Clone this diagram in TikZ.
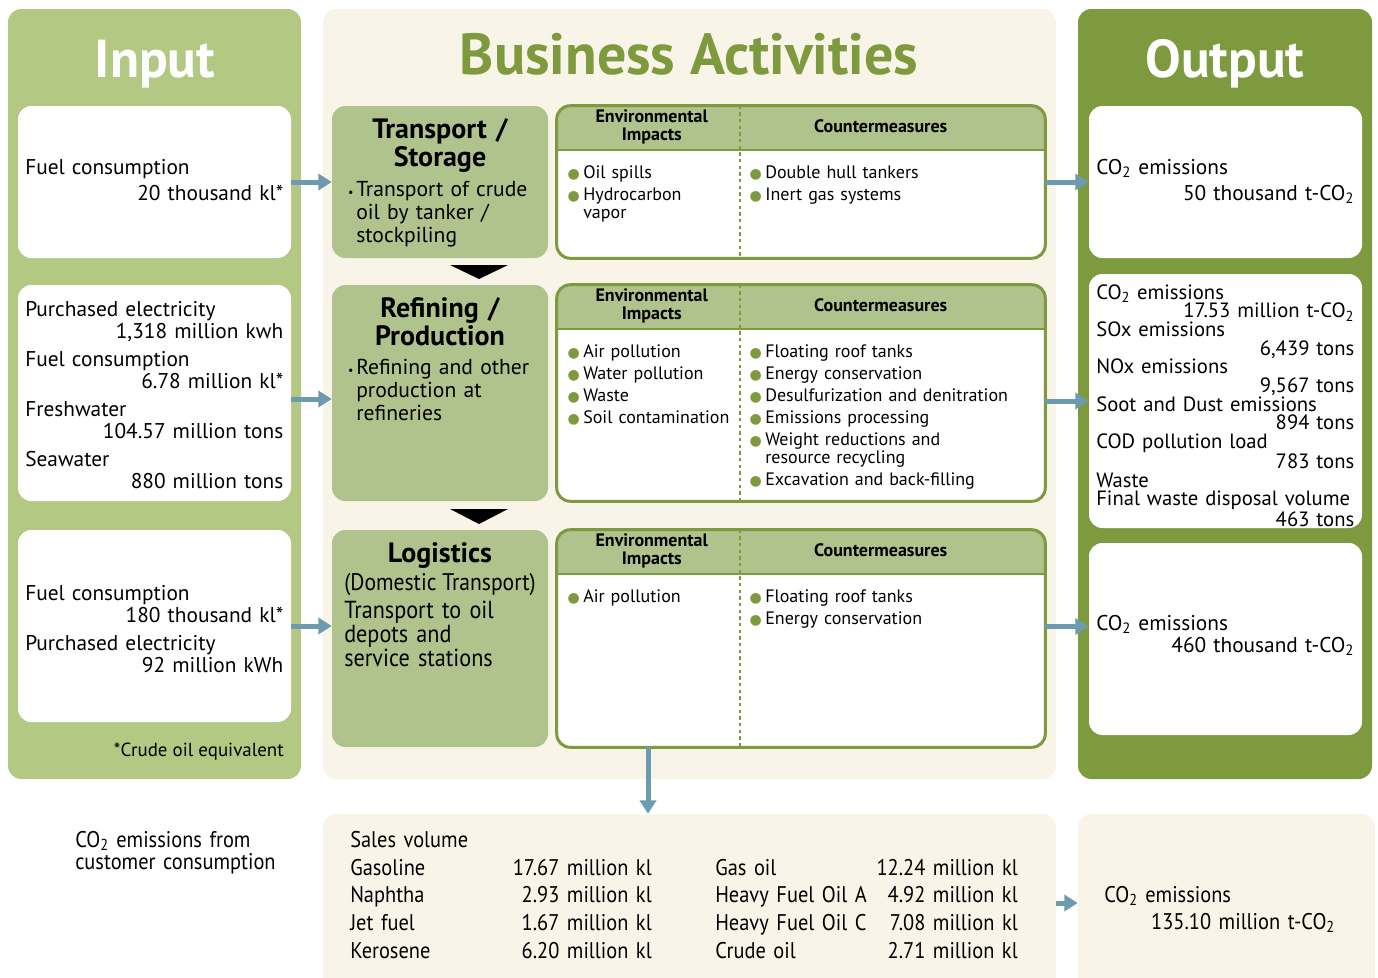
\documentclass[tikz,border=0pt]{standalone}
\usepackage{fontspec}
\setmainfont{PT Sans}
\newfontfamily\narrowfont[FakeStretch=0.9]{PT Sans}
\newfontfamily\symfont{DejaVu Sans}
\usetikzlibrary{positioning,fit,arrows.meta,calc}

\definecolor{ingreen}{HTML}{B3C983}
\definecolor{outgreen}{HTML}{7D9A3E}
\definecolor{stagegreen}{HTML}{B1C38C}
\definecolor{cream}{HTML}{F8F4E8}
\definecolor{flowblue}{HTML}{6C9AAF}

\newcommand{\cotwo}{CO\textsubscript{2}}
\newcommand{\rgt}{\hspace*{\fill}}
\newcommand{\gdot}{\leavevmode\llap{\textcolor{outgreen}{\symfont\fontsize{10.5}{10}\selectfont ●}\hspace{2.5pt}}}
\newcommand{\sdot}{\leavevmode\llap{{\fontsize{9}{9}\selectfont\textbullet}\hspace{2pt}}}
\setlength{\lineskiplimit}{-50pt}

\tikzset{
  panel/.style     = {inner sep=0pt, rounded corners=10pt},
  whitebox/.style  = {fill=white, inner sep=0pt, rounded corners=10pt},
  stagebox/.style  = {fill=stagegreen, inner sep=0pt, rounded corners=10pt},
  impactbox/.style = {fill=white, inner sep=0pt, rounded corners=10pt},
  bigtitle/.style  = {inner sep=0pt, anchor=base, font=\fontsize{40}{40}\selectfont\bfseries},
  figures/.style   = {inner sep=0pt, align=left, text width=193.5pt, anchor=base west,
                      font=\fontsize{16}{16.5}\selectfont},
  stagehead/.style = {inner sep=0pt, align=center, text width=160pt, anchor=base,
                      font=\fontsize{21}{21}\selectfont\bfseries},
  stagetext/.style = {inner sep=0pt, align=left, text width=145pt, anchor=base west,
                      font=\fontsize{16.2}{17.5}\selectfont},
  colhead/.style   = {inner sep=0pt, align=center, text width=130pt, anchor=base,
                      font=\fontsize{13.5}{13.5}\selectfont\bfseries},
  items/.style     = {inner sep=0pt, align=left, text width=160pt, anchor=base west,
                      font=\fontsize{13.5}{13.5}\selectfont},
  salestext/.style = {inner sep=0pt, align=left, text width=130pt, anchor=base west,
                      font=\narrowfont\fontsize{17}{20.8}\selectfont},
  flow/.style      = {draw=flowblue, line width=3.75pt, -{Triangle[length=10pt,width=12pt]}},
}

\begin{document}
\begin{tikzpicture}[x=0.75pt, y=-0.75pt]
\useasboundingbox (0,0) rectangle (1378,978);

% three columns
\node[panel, fill=ingreen, fit={(8,9) (301,779)}] (input) {};
\node[panel, fill=cream, fit={(323,9) (1056,779)}] (business) {};
\node[panel, fill=outgreen, fit={(1078,9) (1372,779)}] (output) {};
\node[bigtitle, text=white] (inputtitle) at (155,77) {Input};
\node[bigtitle, text=outgreen, font=\fontsize{43.5}{44}\selectfont\bfseries] (businesstitle) at (689,74) {Business Activities};
\node[bigtitle, text=white] (outputtitle) at (1225,77) {Output};

% input side
\node[whitebox, fit={(18,106) (291,258)}] (in1) {};
\node[whitebox, fit={(18,285) (291,501)}] (in2) {};
\node[whitebox, fit={(18,530) (291,722)}] (in3) {};
\node[figures] (in1text) at (25,174) {Fuel consumption\\[3pt]\rgt 20 thousand kl*};
\node[figures] (in2text) at (25,316) {Purchased electricity\\\rgt 1,318 million kwh\\[4.5pt]
  Fuel consumption\\\rgt 6.78 million kl*\\[4.5pt]
  Freshwater\\\rgt 104.57 million tons\\[4.5pt]
  Seawater\\\rgt 880 million tons};
\node[figures] (in3text) at (25,600) {Fuel consumption\\\rgt 180 thousand kl*\\[4.5pt]
  Purchased electricity\\\rgt 92 million kWh};
\node[inner sep=0pt, anchor=base east, font=\fontsize{14.2}{14}\selectfont] (note) at (284,756) {*Crude oil equivalent};

% output side
\node[whitebox, fit={(1089,106) (1362,258)}] (out1) {};
\node[whitebox, fit={(1089,274) (1362,528)}] (out2) {};
\node[whitebox, fit={(1089,543) (1362,735)}] (out3) {};
\node[figures] (out1text) at (1096,174) {\cotwo{} emissions\\[3pt]\rgt 50 thousand t-\cotwo};
\node[figures, font=\fontsize{15.5}{14}\selectfont] (out2text) at (1096,299) {\cotwo{} emissions\\\rgt 17.53 million t-\cotwo\\
  SOx emissions\\\rgt 6,439 tons\\
  NOx emissions\\\rgt 9,567 tons\\
  Soot and Dust emissions\\\rgt 894 tons\\
  COD pollution load\\\rgt 783 tons\\
  Waste\\Final waste disposal volume\\\rgt 463 tons};
\node[figures] (out3text) at (1096,630) {\cotwo{} emissions\\\rgt 460 thousand t-\cotwo};

% stages and their impact tables
\coordinate (divx) at (740,0);
\foreach \n/\yt/\yb in {1/106/258, 2/285/501, 3/530/747} {
  \node[stagebox, fit={(332,\yt) (548,\yb)}] (act\n) {};
  \node[impactbox, fit={(557,\yt) (1045,\yb)}] (tab\n) {};
  \begin{scope}
    \clip[rounded corners=10pt] (tab\n.north west) rectangle (tab\n.south east);
    \fill[stagegreen] (tab\n.north west) rectangle ([yshift=-33pt]tab\n.north east);
  \end{scope}
  \draw[outgreen, line width=1.5pt] ([yshift=-33pt]tab\n.north west) -- ([yshift=-33pt]tab\n.north east);
  \draw[outgreen, line width=0.8pt, dash pattern=on 2.5pt off 2.5pt] (tab\n.north -| divx) -- (tab\n.south -| divx);
  \draw[outgreen, line width=2.25pt, rounded corners=10pt] (tab\n.north west) rectangle (tab\n.south east);
  \node[colhead] (env\n) at ([shift={(95,16.5)}]tab\n.north west) {Environmental\\Impacts};
  \node[colhead] (cm\n) at ([shift={(324,27)}]tab\n.north west) {Countermeasures};
}
\fill (450,265) -- (508,265) -- (479,279) -- cycle;
\fill (450,509) -- (508,509) -- (479,524) -- cycle;

\node[stagehead] (act1title) at (440,138) {Transport /\\Storage};
\node[stagetext] (act1body) at (356,196) {\sdot Transport of crude\\oil by tanker /\\stockpiling};
\node[stagehead] (act2title) at (440,317) {Refining /\\Production};
\node[stagetext] (act2body) at (356,374) {\sdot Refining and other\\production at\\refineries};
\node[stagehead] (act3title) at (440,562) {Logistics};
\node[inner sep=0pt, anchor=base, font=\narrowfont\fontsize{18}{18}\selectfont] (act3sub) at (440,590) {(Domestic Transport)};
\node[stagetext, font=\narrowfont\fontsize{18.5}{18}\selectfont] (act3body) at (344,618) {Transport to oil\\depots and\\service stations};

\node[items] (imp1) at (583,178) {\gdot Oil spills\\[3pt]\gdot Hydrocarbon\\vapor};
\node[items] (cnt1) at (765,178) {\gdot Double hull tankers\\[3pt]\gdot Inert gas systems};
\node[items] (imp2) at (583,357) {\gdot Air pollution\\[3pt]\gdot Water pollution\\[3pt]\gdot Waste\\[3pt]\gdot Soil contamination};
\node[items, text width=200pt] (cnt2) at (765,357) {\gdot Floating roof tanks\\[3pt]\gdot Energy conservation\\[3pt]
  \gdot Desulfurization and denitration\\[3pt]\gdot Emissions processing\\[3pt]
  \gdot Weight reductions and\\resource recycling\\[3pt]\gdot Excavation and back-filling};
\node[items] (imp3) at (583,602) {\gdot Air pollution};
\node[items] (cnt3) at (765,602) {\gdot Floating roof tanks\\[3pt]\gdot Energy conservation};

% sales and customer emissions
\node[panel, fill=cream, fit={(323,814) (1056,992)}] (salesbox) {};
\node[panel, fill=cream, fit={(1078,814) (1375,992)}] (custout) {};
\node[salestext, text width=200pt, font=\narrowfont\fontsize{17}{17}\selectfont] (custlabel) at (75,847) {\cotwo{} emissions from\\customer consumption};
\node[salestext] (salestitle) at (350,847) {Sales volume};
\node[salestext] (names1) at (350,875) {Gasoline\\Naphtha\\Jet fuel\\Kerosene};
\node[salestext, align=right, anchor=base east] (values1) at (652,875) {17.67 million kl\\2.93 million kl\\1.67 million kl\\6.20 million kl};
\node[salestext] (names2) at (715,875) {Gas oil\\Heavy Fuel Oil A\\Heavy Fuel Oil C\\Crude oil};
\node[salestext, align=right, anchor=base east] (values2) at (1018,875) {12.24 million kl\\4.92 million kl\\7.08 million kl\\2.71 million kl};
\node[salestext, text width=173pt, font=\narrowfont\fontsize{17}{20.25}\selectfont] (custtext) at (1104,902) {\cotwo{} emissions\\\rgt 135.10 million t-\cotwo};

% flows
\draw[flow] (in1.east) -- (act1.west);
\draw[flow] ([yshift=-4.5pt]in2.east) -- ([yshift=-4.5pt]in2.east -| act2.west);
\draw[flow] (in3.east) -- (in3.east -| act3.west);
\draw[flow] (tab1.east) -- (out1.west);
\draw[flow] (tab2.east |- out2.west) -- (out2.west);
\draw[flow] ([yshift=9pt]tab3.east) -- ([yshift=9pt]tab3.east -| out3.west);
\coordinate (drop) at (648,0);
\draw[flow] (tab3.south -| drop) -- (salesbox.north -| drop);
\draw[flow] (salesbox.east) -- (custout.west);
\end{tikzpicture}
\end{document}
